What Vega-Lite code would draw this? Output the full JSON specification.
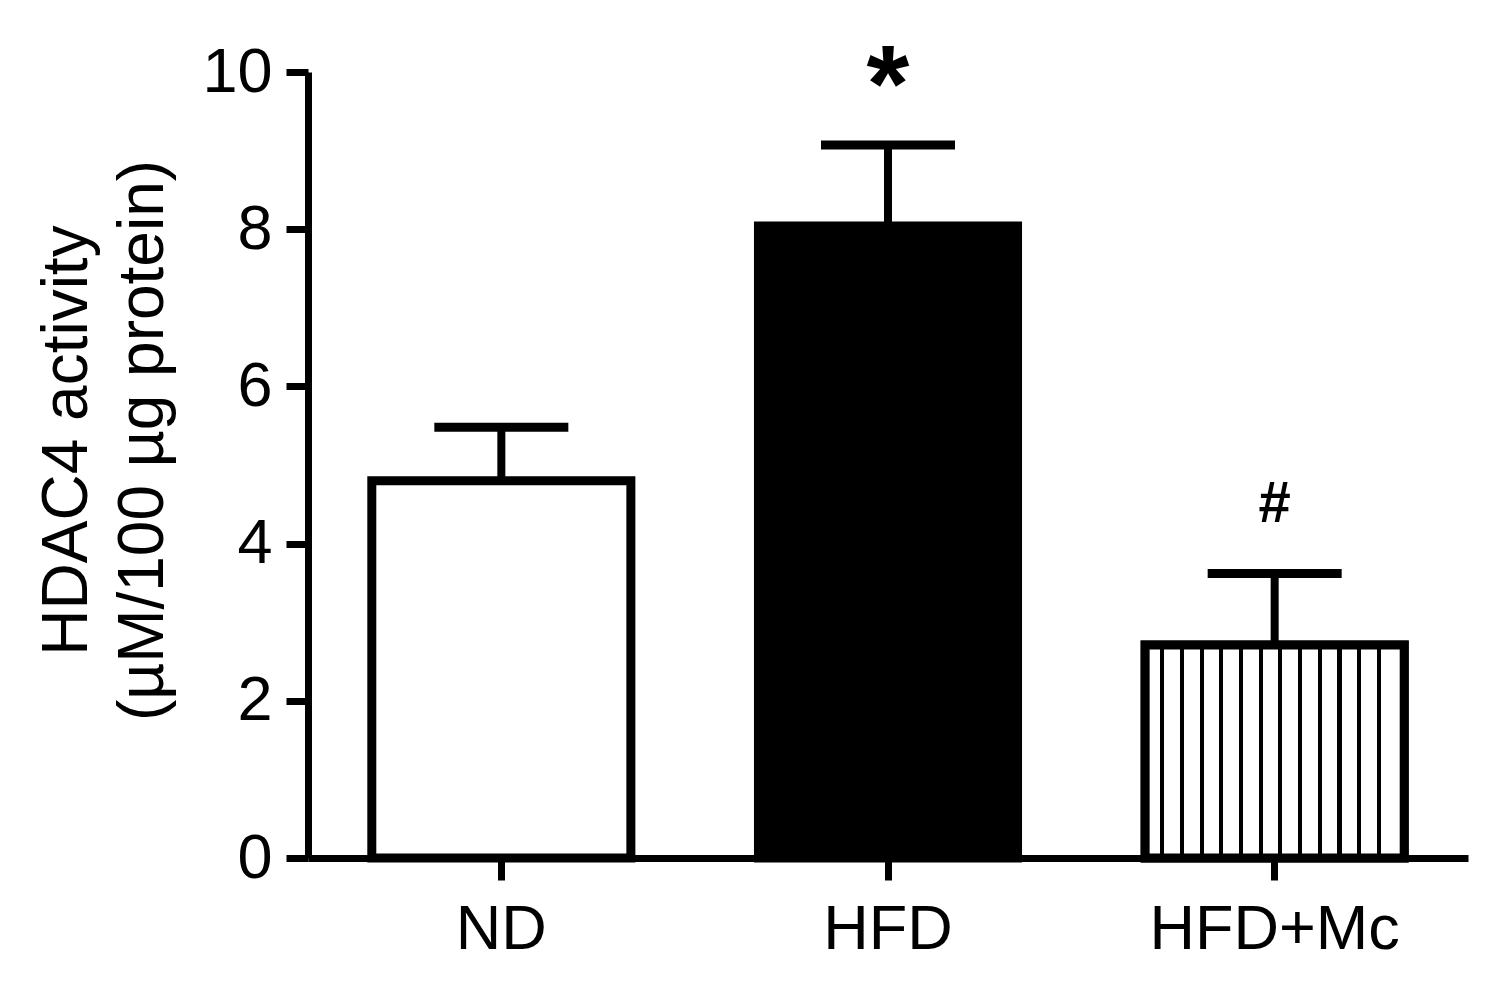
{
  "$schema": "https://vega.github.io/schema/vega-lite/v6.json",
  "width": 1160,
  "height": 786,
  "autosize": {"type": "none"},
  "padding": {"left": 308, "top": 72, "right": 42, "bottom": 132},
  "background": "white",
  "config": {
    "view": {"stroke": null},
    "font": "Liberation Sans",
    "axis": {"grid": false, "domainColor": "black", "tickColor": "black", "labelColor": "black", "titleColor": "black", "labelFont": "Liberation Sans", "titleFont": "Liberation Sans", "zindex": 1}
  },
  "data": {
    "values": [
      {"group": "ND", "mean": 4.8, "upper": 5.48, "sig": ""},
      {"group": "HFD", "mean": 8.04, "upper": 9.07, "sig": "*"},
      {"group": "HFD+Mc", "mean": 2.71, "upper": 3.62, "sig": "#"}
    ]
  },
  "encoding": {
    "x": {
      "field": "group", "type": "nominal", "sort": ["ND", "HFD", "HFD+Mc"],
      "scale": {"paddingInner": 0.33, "paddingOuter": 0.165},
      "axis": {"title": null, "labelAngle": 0, "labelFontSize": 63, "labelLimit": 0, "labelPadding": 18, "tickSize": 22, "tickWidth": 7, "domainWidth": 7}
    }
  },
  "layer": [
    {
      "mark": {"type": "rule", "strokeWidth": 8, "color": "black"},
      "encoding": {
        "y": {"field": "mean", "type": "quantitative"},
        "y2": {"field": "upper"}
      }
    },
    {
      "mark": {"type": "tick", "size": 134, "thickness": 9, "color": "black", "opacity": 1},
      "encoding": {
        "y": {"field": "upper", "type": "quantitative"}
      }
    },
    {
      "mark": {"type": "bar", "stroke": "black", "strokeWidth": 9, "strokeJoin": "miter", "opacity": 1},
      "encoding": {
        "y": {
          "field": "mean", "type": "quantitative",
          "scale": {"domain": [0, 10]},
          "axis": {
            "values": [0, 2, 4, 6, 8, 10], "format": "d",
            "title": ["HDAC4 activity", "(µM/100 µg protein)"],
            "titleFontSize": 64, "titleFontWeight": "normal", "titleLineHeight": 76,
            "titleAngle": 270, "titleAlign": "center", "titleBaseline": "alphabetic",
            "titleX": -222, "titleY": 368,
            "labelFontSize": 63, "labelPadding": 14, "tickSize": 22, "tickWidth": 7, "domainWidth": 7
          }
        },
        "fill": {
          "field": "group", "type": "nominal",
          "scale": {"domain": ["ND", "HFD", "HFD+Mc"], "range": ["white", "black", "white"]},
          "legend": null
        }
      }
    },
    {
      "transform": [{"filter": "datum.group === 'HFD+Mc'"}],
      "mark": {
        "type": "bar", "stroke": "black", "strokeWidth": 9, "strokeJoin": "miter", "opacity": 1,
        "fill": {
          "gradient": "linear", "x1": 0, "y1": 0, "x2": 1, "y2": 0,
          "stops": [
            {"offset": 0, "color": "white"},
            {"offset": 0.058, "color": "white"}, {"offset": 0.058, "color": "black"}, {"offset": 0.074, "color": "black"}, {"offset": 0.074, "color": "white"},
            {"offset": 0.134, "color": "white"}, {"offset": 0.134, "color": "black"}, {"offset": 0.150, "color": "black"}, {"offset": 0.150, "color": "white"},
            {"offset": 0.210, "color": "white"}, {"offset": 0.210, "color": "black"}, {"offset": 0.226, "color": "black"}, {"offset": 0.226, "color": "white"},
            {"offset": 0.286, "color": "white"}, {"offset": 0.286, "color": "black"}, {"offset": 0.302, "color": "black"}, {"offset": 0.302, "color": "white"},
            {"offset": 0.362, "color": "white"}, {"offset": 0.362, "color": "black"}, {"offset": 0.378, "color": "black"}, {"offset": 0.378, "color": "white"},
            {"offset": 0.438, "color": "white"}, {"offset": 0.438, "color": "black"}, {"offset": 0.454, "color": "black"}, {"offset": 0.454, "color": "white"},
            {"offset": 0.514, "color": "white"}, {"offset": 0.514, "color": "black"}, {"offset": 0.530, "color": "black"}, {"offset": 0.530, "color": "white"},
            {"offset": 0.590, "color": "white"}, {"offset": 0.590, "color": "black"}, {"offset": 0.606, "color": "black"}, {"offset": 0.606, "color": "white"},
            {"offset": 0.666, "color": "white"}, {"offset": 0.666, "color": "black"}, {"offset": 0.682, "color": "black"}, {"offset": 0.682, "color": "white"},
            {"offset": 0.742, "color": "white"}, {"offset": 0.742, "color": "black"}, {"offset": 0.758, "color": "black"}, {"offset": 0.758, "color": "white"},
            {"offset": 0.818, "color": "white"}, {"offset": 0.818, "color": "black"}, {"offset": 0.834, "color": "black"}, {"offset": 0.834, "color": "white"},
            {"offset": 0.894, "color": "white"}, {"offset": 0.894, "color": "black"}, {"offset": 0.910, "color": "black"}, {"offset": 0.910, "color": "white"},
            {"offset": 1, "color": "white"}
          ]
        }
      },
      "encoding": {
        "y": {"field": "mean", "type": "quantitative"}
      }
    },
    {
      "transform": [{"filter": "datum.sig === '*'"}],
      "mark": {"type": "text", "fontSize": 110, "fontWeight": "bold", "baseline": "alphabetic", "dy": -24, "color": "black", "font": "Liberation Sans"},
      "encoding": {
        "y": {"field": "upper", "type": "quantitative"},
        "text": {"field": "sig"}
      }
    },
    {
      "transform": [{"filter": "datum.sig === '#'"}],
      "mark": {"type": "text", "fontSize": 58, "fontWeight": "bold", "baseline": "alphabetic", "dy": -51, "color": "black", "font": "Liberation Sans"},
      "encoding": {
        "y": {"field": "upper", "type": "quantitative"},
        "text": {"field": "sig"}
      }
    }
  ]
}
